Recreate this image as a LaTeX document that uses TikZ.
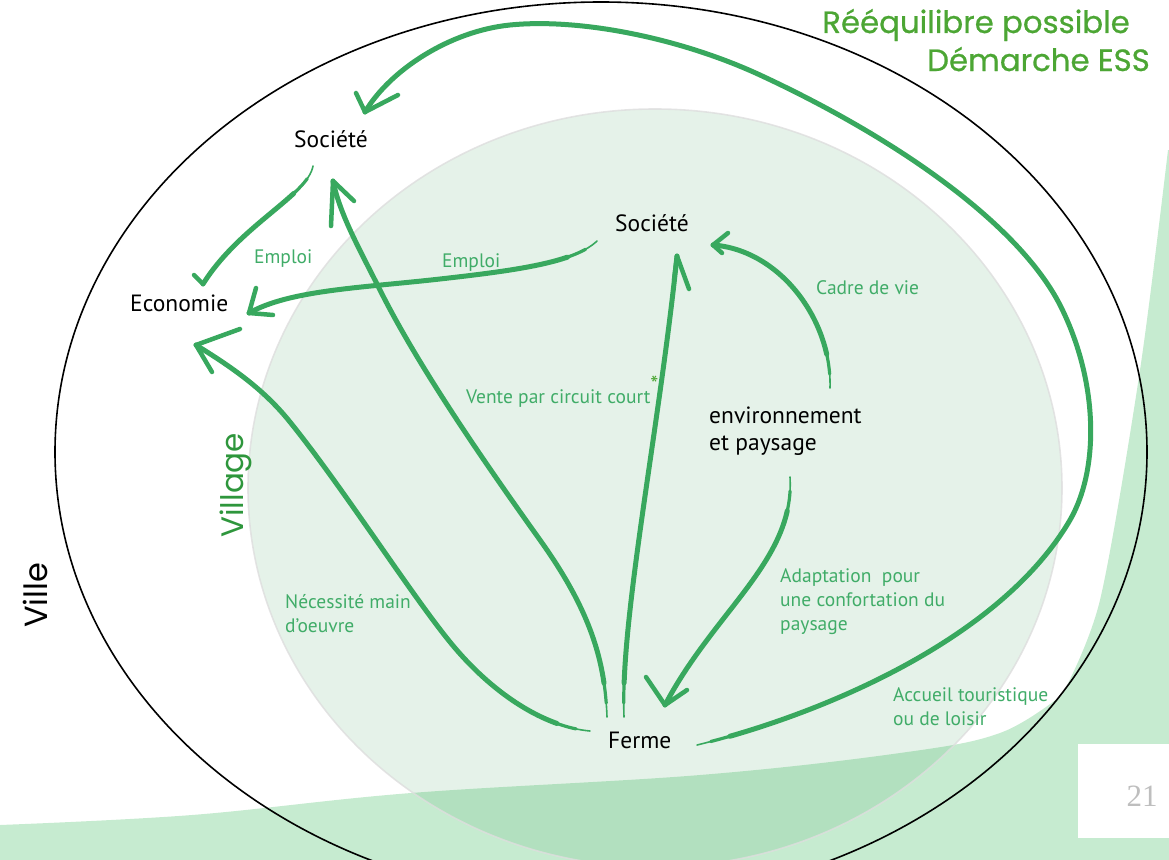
\documentclass[tikz,border=0pt]{standalone}
\usepackage{fontspec}
\setmainfont{PT Sans}
\newfontfamily\geofont{Poppins}
\newfontfamily\titlefont[FakeBold=0.7]{Poppins}
\newfontfamily\numfont{Liberation Serif}
\definecolor{arrowg}{RGB}{56,168,94}
\definecolor{labelg}{RGB}{64,172,104}
\definecolor{titleg}{RGB}{76,166,52}
\definecolor{villg}{RGB}{46,150,60}
\definecolor{bandg}{RGB}{198,235,208}
\definecolor{villfill}{RGB}{40,150,70}
\definecolor{villline}{RGB}{222,222,222}
\definecolor{pagegrey}{RGB}{190,190,190}
\begin{document}
\begin{tikzpicture}[x=1pt,y=-1pt,
  brush/.style={draw=arrowg,line width=1.6pt,line cap=round,line join=round,
    postaction={draw=arrowg,line width=3.2pt,line cap=round,dash pattern=on 5000pt off 14pt,dash phase=5000pt},
    postaction={draw=arrowg,line width=5pt,line cap=round,dash pattern=on 5000pt off 34pt,dash phase=5000pt}},
  barb/.style={draw=arrowg,line width=4.5pt,line cap=round},
  blk/.style={inner sep=0pt,font=\fontsize{23.5}{27}\selectfont,text=black,align=left},
  grn/.style={inner sep=0pt,font=\fontsize{19.5}{24}\selectfont,text=labelg,align=left},
  ttl/.style={inner sep=0pt,font=\titlefont\fontsize{30.8}{36}\selectfont,text=titleg}]
\useasboundingbox (0,0) rectangle (1169,859);
\clip (0,0) rectangle (1169,859);
% background green band and wedge
\fill[bandg] plot[smooth,tension=0.6] coordinates {(0,825) (192,815) (411,793) (700,775) (900,753) (1000,733) (1062,695)}
  -- plot[smooth,tension=0.5] coordinates {(1062,695) (1100,600) (1140,370) (1168,150)}
  -- (1172,150) -- (1172,862) -- (0,862) -- cycle;
% page number box
\fill[white] (1078,744) rectangle (1172,838);
\node[inner sep=0pt,font=\numfont\fontsize{31}{31}\selectfont,text=pagegrey] (page) at (1142,796) {21};
% village
\fill[villfill,fill opacity=0.12] (655,488) ellipse [x radius=407, y radius=379];
\draw[villline,line width=1.6pt,draw opacity=0.8] (655,488) ellipse [x radius=407, y radius=379];
% ville
\draw[black,line width=1.6pt] (601,452) ellipse [x radius=546, y radius=450];

% text nodes
\node[blk,anchor=base] (socT) at (331,147) {Société};
\node[blk,anchor=base west] (eco) at (130,311) {Economie};
\node[blk,anchor=base west] (socV) at (615,231) {Société};
\node[blk,anchor=base west] (env) at (709,450) {environnement\\et paysage};
\node[blk,anchor=base west] (ferme) at (608,748) {Ferme};

\node[grn,anchor=base west] (lemp1) at (254,263) {Emploi};
\node[grn,anchor=base west] (lemp2) at (442,267) {Emploi};
\node[grn,anchor=base west] (lcadre) at (816,294) {Cadre de vie};
\node[grn,anchor=base west] (lvente) at (466,403) {Vente par circuit court\raisebox{0.55em}{\textcolor{titleg}{\fontsize{23}{23}\selectfont*}}};
\node[grn,anchor=base west] (lnec) at (285,632) {Nécessité main\\d'oeuvre};
\node[grn,anchor=base west] (ladapt) at (780,630) {Adaptation\ \ pour\\une confortation du\\paysage};
\node[grn,anchor=base west] (laccueil) at (893,725) {Accueil touristique\\ou de loisir};

\node[ttl,anchor=base east] (title1) at (1130,33) {Rééquilibre possible};
\node[ttl,anchor=base east] (title2) at (1150,71) {Démarche ESS};
\node[inner sep=0pt,font=\geofont\fontsize{31}{31}\selectfont,text=villg,rotate=90,anchor=base west] (village) at (243,538) {Village};
\node[inner sep=0pt,font=\geofont\fontsize{32}{32}\selectfont,text=black,rotate=90,anchor=base west] (ville) at (47,628) {Ville};

% arrow end points
\coordinate (aS) at (313,166); \coordinate (aT) at (203,284);
\coordinate (bS) at (597,241); \coordinate (bT) at (249,313);
\coordinate (cS) at (590,731); \coordinate (cT) at (196,345);
\coordinate (dS) at (607,717); \coordinate (dT) at (333,181);
\coordinate (eS) at (624,717); \coordinate (eT) at (677,256);
\coordinate (fS) at (830,388); \coordinate (fT) at (713,245);
\coordinate (gS) at (790,477); \coordinate (gT) at (665,705);
\coordinate (hS) at (697,745); \coordinate (hT) at (365,112);

% A: Societe (ville) -> Economie
\draw[brush] (aS) .. controls (308,195) and (240,225) .. (aT);
\draw[barb] (aT) -- (194,275);
% B: Societe (village) -> Economie
\draw[brush] (bS) .. controls (575,262) and (520,270) .. (440,279)
  .. controls (360,288) and (290,290) .. (bT);
\draw[barb] (bT) -- (256,288);
\draw[barb] (bT) -- (273,315);
% C: Ferme -> Economie
\draw[brush] (cS) .. controls (545,727) and (495,695) .. (455,648)
  .. controls (415,601) and (345,490) .. (290,422)
  .. controls (262,387) and (228,365) .. (cT);
\draw[barb] (cT) -- (240,329);
\draw[barb] (cT) -- (212,372);
% D: Ferme -> Societe (ville)
\draw[brush] (dS) .. controls (605,660) and (590,610) .. (540,540)
  .. controls (490,470) and (420,370) .. (380,290)
  .. controls (360,250) and (340,215) .. (dT);
\draw[barb] (dT) -- (331,226);
\draw[barb] (dT) -- (354,201);
% E: Ferme -> Societe (village)
\draw[brush] (eS) .. controls (620,620) and (659,430) .. (eT);
\draw[barb] (eT) -- (674,280);
\draw[barb] (eT) -- (689,289);
% F: environnement -> Societe (village)
\draw[brush] (fS) .. controls (832,320) and (780,250) .. (fT);
\draw[barb] (fT) -- (728,233);
\draw[barb] (fT) -- (722,253);
% G: environnement -> Ferme
\draw[brush] (gS) .. controls (795,560) and (715,610) .. (gT);
\draw[barb] (gT) -- (646,677);
\draw[barb] (gT) -- (687,690);
% H: Ferme -> Societe (ville), large loop
\draw[brush] (hS) .. controls (820,715) and (1000,640) .. (1070,520)
  .. controls (1100,468) and (1098,380) .. (1060,305)
  .. controls (1019,225) and (900,140) .. (760,75)
  .. controls (680,38) and (580,18) .. (510,25)
  .. controls (450,31) and (390,70) .. (hT);
\draw[barb] (hT) -- (356,93);
\draw[barb] (hT) -- (398,95);
\end{tikzpicture}
\end{document}
